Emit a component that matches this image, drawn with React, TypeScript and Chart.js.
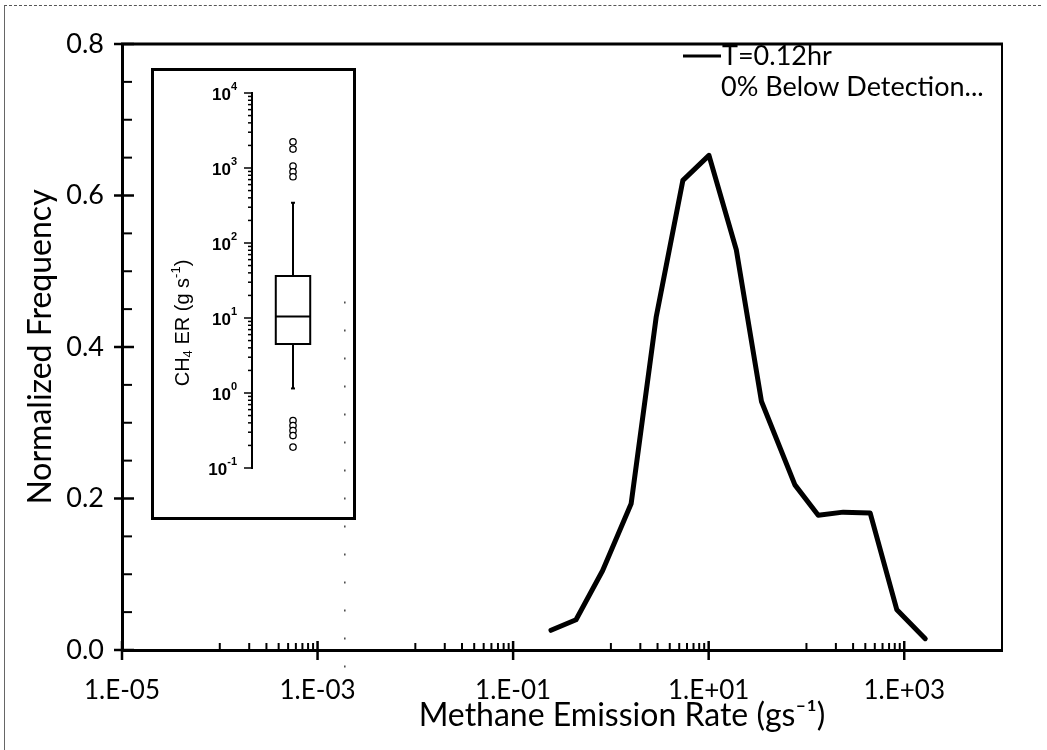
import React, { useEffect, useRef } from "react";
import { Chart, registerables } from "chart.js";

Chart.register(...registerables);

// ---------- main chart data ----------
const emissionRates = [0.244, 0.44, 0.824, 1.61, 2.91, 5.45, 10.07, 19.2, 34.7, 76.2, 132, 238, 448, 841, 1641];
const normalizedFrequency = [0.026, 0.04, 0.105, 0.193, 0.44, 0.62, 0.653, 0.528, 0.328, 0.218, 0.178, 0.182, 0.181, 0.053, 0.015];
const xMajorTicks = [1e-5, 1e-3, 1e-1, 1e1, 1e3];
const xMinorDecades = [1e-4, 1e-2, 1e0, 1e2];
const yTicks = [0, 0.2, 0.4, 0.6, 0.8];
const seriesLabel = "T=0.12hr";
const legendNote = "0% Below Detection...";
const detectionMarker = 1.9e-3;
const xTitle = "Methane Emission Rate (gs\u207B\u00B9)";
const yTitle = "Normalized Frequency";

// ---------- inset box plot data ----------
const whiskerLow = 1.15;
const quartile1 = 4.5;
const medianValue = 10.5;
const quartile3 = 36.3;
const whiskerHigh = 344;
const outliersHigh = [2240, 1790, 1060, 890, 765];
const outliersLow = [0.43, 0.368, 0.316, 0.271, 0.19];
const insetExponents = [-1, 0, 1, 2, 3, 4];

const FONT = "Lato, 'DejaVu Sans', sans-serif";
const INSET_FONT = "'Liberation Sans', 'DejaVu Sans', sans-serif";

function fmtSci(v: number) {
  const e = Math.round(Math.log10(v));
  const s = e < 0 ? "-" : "+";
  return `1.E${s}${String(Math.abs(e)).padStart(2, "0")}`;
}

function line(ctx: CanvasRenderingContext2D, x1: number, y1: number, x2: number, y2: number) {
  ctx.beginPath();
  ctx.moveTo(x1, y1);
  ctx.lineTo(x2, y2);
  ctx.stroke();
}

const mainDecor = {
  id: "mainDecor",
  afterDraw(chart: any) {
    const { ctx, chartArea, scales } = chart;
    const { left, right, top, bottom } = chartArea;
    const x = scales.x;
    const y = scales.y;
    ctx.save();
    ctx.strokeStyle = "#000";
    ctx.lineCap = "butt";
    // frame
    ctx.lineWidth = 3;
    line(ctx, left - 1, top, right + 1, top);
    ctx.lineWidth = 2;
    line(ctx, right, top, right, bottom);
    // y ticks
    ctx.lineWidth = 2.5;
    for (const v of yTicks) {
      const py = y.getPixelForValue(v);
      line(ctx, left - 8, py, left + 12, py);
    }
    ctx.lineWidth = 2;
    for (let i = 1; i < 16; i++) {
      if (i % 4 === 0) continue;
      const py = y.getPixelForValue(i * 0.05);
      line(ctx, left, py, left + 10, py);
    }
    // x ticks
    ctx.lineWidth = 2.5;
    for (const v of xMajorTicks) {
      const px = x.getPixelForValue(v);
      line(ctx, px, bottom - 9, px, bottom + 10);
    }
    ctx.lineWidth = 2;
    for (const d of xMinorDecades) {
      for (let k = 1; k <= 9; k++) {
        const px = x.getPixelForValue(k * d);
        line(ctx, px, bottom - 7, px, bottom);
      }
    }
    // faint detection marker
    ctx.strokeStyle = "#444";
    ctx.lineWidth = 1.5;
    ctx.setLineDash([2, 26]);
    const mx = x.getPixelForValue(detectionMarker);
    line(ctx, mx, y.getPixelForValue(0.46), mx, bottom + 42);
    ctx.setLineDash([]);
    // x axis title (placed right of centre as in the original)
    ctx.fillStyle = "#000";
    ctx.font = `32px ${FONT}`;
    ctx.textAlign = "center";
    ctx.textBaseline = "middle";
    ctx.fillText(xTitle, (left + right) / 2 + 60, bottom + 66);
    // legend
    ctx.strokeStyle = "#000";
    ctx.lineWidth = 3;
    line(ctx, right - 319, top + 12, right - 281, top + 12);
    ctx.font = `27px ${FONT}`;
    ctx.textAlign = "left";
    ctx.fillText(seriesLabel, right - 280, top + 12);
    ctx.fillText(legendNote, right - 281, top + 43);
    ctx.restore();
  },
};

const insetDecor = {
  id: "insetDecor",
  afterDraw(chart: any) {
    const { ctx, chartArea, scales } = chart;
    const { left } = chartArea;
    const x = scales.x;
    const y = scales.y;
    ctx.save();
    ctx.strokeStyle = "#000";
    ctx.fillStyle = "#000";
    // ticks
    ctx.lineWidth = 1.5;
    for (const e of insetExponents) {
      const py = y.getPixelForValue(Math.pow(10, e));
      line(ctx, left - 8, py, left, py);
      if (e < 4) {
        for (let k = 2; k <= 9; k++) {
          const pm = y.getPixelForValue(k * Math.pow(10, e));
          line(ctx, left - 4, pm, left, pm);
        }
      }
      // label 10^e
      ctx.textBaseline = "middle";
      ctx.textAlign = "left";
      ctx.font = `bold 11px ${INSET_FONT}`;
      const expStr = e < 0 ? "-" + Math.abs(e) : String(e);
      const ew = ctx.measureText(expStr).width;
      ctx.font = `bold 17px ${INSET_FONT}`;
      const bw = ctx.measureText("10").width;
      const xr = left - 15;
      ctx.fillText("10", xr - ew - bw, py + 2);
      ctx.font = `bold 11px ${INSET_FONT}`;
      ctx.fillText(expStr, xr - ew, py - 6);
    }
    // box plot
    const cx = x.getPixelForValue(0.5);
    const bl = x.getPixelForValue(0.5 - 0.21);
    const br = x.getPixelForValue(0.5 + 0.21);
    const yq1 = y.getPixelForValue(quartile1);
    const yq3 = y.getPixelForValue(quartile3);
    const ym = y.getPixelForValue(medianValue);
    const ylo = y.getPixelForValue(whiskerLow);
    const yhi = y.getPixelForValue(whiskerHigh);
    ctx.lineWidth = 2;
    line(ctx, cx, yq3, cx, yhi);
    line(ctx, cx, yq1, cx, ylo);
    line(ctx, cx - 2, yhi, cx + 2, yhi);
    line(ctx, cx - 2, ylo, cx + 2, ylo);
    ctx.strokeRect(bl, yq3, br - bl, yq1 - yq3);
    line(ctx, bl, ym, br, ym);
    // y title: CH4 ER (g s-1)
    const parts: [string, number, number][] = [
      ["CH", 20, 0],
      ["4", 13, 5],
      [" ER (g s", 20, 0],
      ["-1", 13, -7],
      [")", 20, 0],
    ];
    let total = 0;
    for (const [t, s] of parts) {
      ctx.font = `${s}px ${INSET_FONT}`;
      total += ctx.measureText(t).width;
    }
    ctx.translate(29, 252);
    ctx.rotate(-Math.PI / 2);
    let cur = -total / 2;
    ctx.textAlign = "left";
    ctx.textBaseline = "middle";
    for (const [t, s, dy] of parts) {
      ctx.font = `${s}px ${INSET_FONT}`;
      ctx.fillText(t, cur, dy);
      cur += ctx.measureText(t).width;
    }
    ctx.restore();
  },
};

export default function App() {
  const mainRef = useRef<HTMLCanvasElement>(null);
  const insetRef = useRef<HTMLCanvasElement>(null);

  useEffect(() => {
    const main = new Chart(mainRef.current!, {
      type: "line",
      data: {
        datasets: [
          {
            label: seriesLabel,
            data: emissionRates.map((v, i) => ({ x: v, y: normalizedFrequency[i] })),
            borderColor: "#000",
            borderWidth: 5,
            pointRadius: 0,
            tension: 0,
            borderJoinStyle: "round",
            borderCapStyle: "round",
          },
        ],
      },
      options: {
        responsive: false,
        animation: false,
        layout: { padding: { top: 44, right: 45, left: 0, bottom: 0 } },
        plugins: { legend: { display: false }, tooltip: { enabled: false } },
        scales: {
          x: {
            type: "logarithmic",
            min: 1e-5,
            max: 1e4,
            grid: { display: false, drawTicks: false },
            border: { display: true, color: "#000", width: 3 },
            afterBuildTicks: (s: any) => {
              s.ticks = xMajorTicks.map((v) => ({ value: v }));
            },
            afterFit: (s: any) => {
              s.height = 100;
            },
            ticks: {
              autoSkip: false,
              maxRotation: 0,
              padding: 25,
              color: "#000",
              font: { family: FONT, size: 26 },
              callback: (v: any) => fmtSci(Number(v)),
            },
            title: { display: false },
          },
          y: {
            type: "linear",
            min: 0,
            max: 0.8,
            grid: { display: false, drawTicks: false },
            border: { display: true, color: "#000", width: 3 },
            afterBuildTicks: (s: any) => {
              s.ticks = yTicks.map((v) => ({ value: v }));
            },
            afterFit: (s: any) => {
              s.width = 122;
            },
            ticks: {
              padding: 18,
              color: "#000",
              font: { family: FONT, size: 27 },
              callback: (v: any) => Number(v).toFixed(1),
            },
            title: {
              display: true,
              text: yTitle,
              color: "#000",
              font: { family: FONT, size: 32 },
              padding: { top: 21, bottom: 0 },
            },
          },
        },
      } as any,
      plugins: [mainDecor],
    });

    const inset = new Chart(insetRef.current!, {
      type: "scatter",
      data: {
        datasets: [
          {
            label: "outliers",
            data: [...outliersHigh, ...outliersLow].map((v) => ({ x: 0.5, y: v })),
            pointRadius: 3.2,
            borderWidth: 1.3,
            borderColor: "#000",
            backgroundColor: "#fff",
          },
        ],
      },
      options: {
        responsive: false,
        animation: false,
        layout: { padding: { top: 22, bottom: 49, right: 19, left: 0 } },
        plugins: { legend: { display: false }, tooltip: { enabled: false } },
        scales: {
          x: { type: "linear", min: 0, max: 1, display: false },
          y: {
            type: "logarithmic",
            min: 0.1,
            max: 1e4,
            grid: { display: false, drawTicks: false },
            border: { display: true, color: "#000", width: 2 },
            ticks: { display: false },
            afterFit: (s: any) => {
              s.width = 98;
            },
          },
        },
      } as any,
      plugins: [insetDecor],
    });

    return () => {
      main.destroy();
      inset.destroy();
    };
  }, []);

  return (
    <div style={{ position: "absolute", left: 0, top: 0, width: 1047, height: 750, background: "#fff", overflow: "hidden" }}>
      <div
        style={{
          position: "absolute",
          left: 4,
          top: 5,
          width: 1036,
          height: 745,
          borderTop: "1px dashed #555",
          borderLeft: "1px solid #666",
        }}
      />
      <canvas ref={mainRef} width={1047} height={750} style={{ position: "absolute", left: 0, top: 0 }} />
      <div
        style={{
          position: "absolute",
          left: 151,
          top: 68,
          width: 205,
          height: 452,
          border: "3px solid #000",
          boxSizing: "border-box",
          background: "transparent",
        }}
      >
        <canvas ref={insetRef} width={199} height={446} style={{ display: "block" }} />
      </div>
    </div>
  );
}
